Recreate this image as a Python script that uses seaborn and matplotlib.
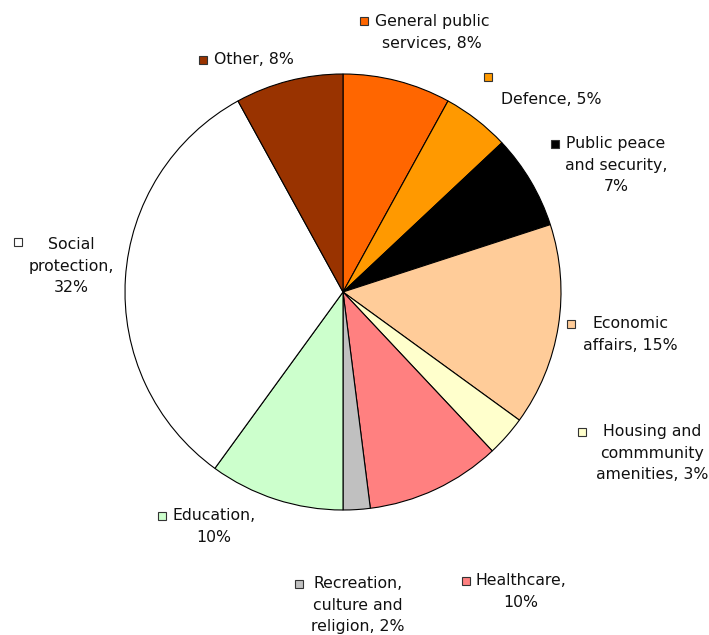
import matplotlib
matplotlib.use("Agg")
import matplotlib.pyplot as plt
from matplotlib.patches import Rectangle
import seaborn as sns
import pandas as pd

# Expenditure shares by function (%)
categories = [
    "General public services", "Defence", "Public peace and security",
    "Economic affairs", "Housing and commmunity amenities", "Healthcare",
    "Recreation, culture and religion", "Education", "Social protection", "Other",
]
shares = [8, 5, 7, 15, 3, 10, 2, 10, 32, 8]
label_texts = [
    "General public\nservices, 8%",
    "\nDefence, 5%",
    "Public peace\nand security,\n7%",
    "Economic\naffairs, 15%",
    "Housing and\ncommmunity\namenities, 3%",
    "Healthcare,\n10%",
    "Recreation,\nculture and\nreligion, 2%",
    "Education,\n10%",
    "Social\nprotection,\n32%",
    "Other, 8%",
]
colors = ["#FF6600", "#FF9900", "#000000", "#FFCC99", "#FFFFCC",
          "#FF8080", "#C0C0C0", "#CCFFCC", "#FFFFFF", "#993300"]

df = pd.DataFrame({"category": categories, "share": shares,
                   "label": label_texts, "color": colors})

sns.set_theme(style="white")
plt.rcParams["font.family"] = ["DejaVu Sans"]

W, H = 709, 635
fig = plt.figure(figsize=(W / 100, H / 100), dpi=100)
ax = fig.add_axes([0, 0, 1, 1])

cx, cy, r = 343, H - 292, 218
ax.pie(df["share"], colors=df["color"], startangle=90, counterclock=False,
       center=(cx, cy), radius=r, frame=True,
       wedgeprops=dict(edgecolor="black", linewidth=0.8))
ax.set_xlim(0, W)
ax.set_ylim(0, H)
ax.set_axis_off()

# label layout: (key square x, key square y, text centre x, text top y) in pixels from top-left
layout = [
    (364, 21, 432, 14),
    (488, 77, 551, 70),
    (555, 144, 616, 136),
    (571, 324, 630, 316),
    (582, 432, 652, 424),
    (466, 581, 521, 573),
    (299, 584, 358, 576),
    (162, 516, 214, 508),
    (18, 242, 71, 237),
    (203, 60, 254, 52),
]
for (kx, ky, tx, ty), text, col in zip(layout, df["label"], df["color"]):
    ax.add_patch(Rectangle((kx - 4, H - ky - 4), 8, 8, facecolor=col,
                           edgecolor="#333333", linewidth=0.8, zorder=5))
    ax.text(tx, H - ty, text, ha="center", va="top", multialignment="center",
            fontsize=11.3, color="#111111", linespacing=1.56)

fig.savefig("out.png", dpi=100, facecolor="white")
